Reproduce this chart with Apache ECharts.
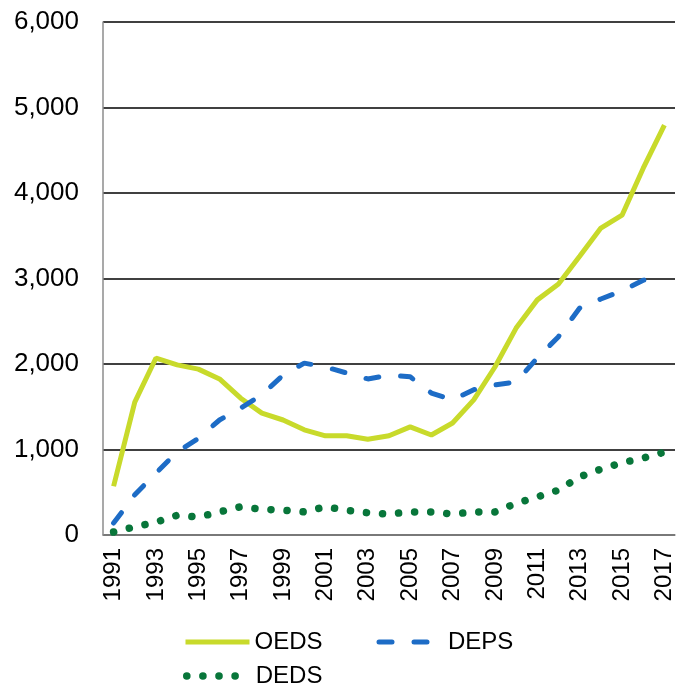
<!DOCTYPE html>
<html>
<head>
<meta charset="utf-8">
<script src="https://cdn.jsdelivr.net/npm/echarts@6/dist/echarts.min.js"></script>
<style>
  html, body { margin: 0; padding: 0; background: #fff; }
  #main { width: 677px; height: 691px; }
</style>
</head>
<body>
<div id="main"></div>
<script>
// 年份
var years = ['1991', '1992', '1993', '1994', '1995', '1996', '1997', '1998', '1999',
  '2000', '2001', '2002', '2003', '2004', '2005', '2006', '2007', '2008', '2009',
  '2010', '2011', '2012', '2013', '2014', '2015', '2016', '2017']

var oeds = [570, 1555, 2070, 1990, 1940, 1825, 1600, 1425, 1345, 1230, 1160, 1160, 1120,
  1160, 1265, 1170, 1310, 1580, 1965, 2420, 2750, 2935, 3260, 3590, 3740, 4290, 4795]
var deps = [140, 470, 725, 970, 1130, 1345, 1485, 1640, 1870, 2010, 1965, 1895, 1825,
  1870, 1850, 1660, 1580, 1700, 1755, 1790, 2070, 2320, 2655, 2760, 2855, 2980, 3010]
var deds = [35, 95, 150, 230, 210, 270, 330, 300, 290, 270, 330, 290, 260,
  245, 270, 270, 245, 270, 270, 370, 445, 525, 680, 770, 845, 900, 970]

var font = 'Liberation Sans, Arial, Helvetica, sans-serif'

var myChart = echarts.init(document.getElementById('main'))

var options = {
  animation: false,
  textStyle: { fontFamily: font },
  grid: { left: 103, top: 22, right: 2, bottom: 156 },
  legend: [
    {
      data: ['OEDS', 'DEPS'],
      left: 178,
      top: 625,
      itemWidth: 64,
      itemHeight: 24,
      itemGap: 54,
      itemStyle: { opacity: 0 },
      lineStyle: { width: 5 },
      textStyle: { fontSize: 24, color: '#000', fontFamily: font }
    },
    {
      data: ['DEDS'],
      left: 178,
      top: 659,
      itemWidth: 64,
      itemHeight: 24,
      itemStyle: { opacity: 0 },
      lineStyle: { width: 7.5 },
      textStyle: { fontSize: 24, color: '#000', fontFamily: font }
    }
  ],
  xAxis: {
    type: 'category',
    data: years,
    boundaryGap: true,
    axisLine: { lineStyle: { color: '#8c8c8c', width: 1.5 } },
    axisTick: { show: false },
    axisLabel: {
      interval: 1,
      rotate: 90,
      margin: 13,
      fontSize: 24,
      color: '#000',
      fontFamily: font
    }
  },
  yAxis: {
    type: 'value',
    min: 0,
    max: 6000,
    interval: 1000,
    axisLine: { show: true, lineStyle: { color: '#8c8c8c', width: 1.5 } },
    axisTick: { show: false },
    splitLine: { lineStyle: { color: '#000', width: 1.5 } },
    axisLabel: {
      margin: 24,
      fontSize: 26,
      color: '#000',
      fontFamily: font,
      formatter: function (v) { return v.toLocaleString('en-US') }
    }
  },
  series: [
    {
      name: 'OEDS',
      type: 'line',
      data: oeds,
      symbol: 'none',
      itemStyle: { color: '#c8da2b' },
      lineStyle: { color: '#c8da2b', width: 5 }
    },
    {
      name: 'DEPS',
      type: 'line',
      data: deps,
      symbol: 'none',
      itemStyle: { color: '#1d6cc6' },
      lineStyle: { color: '#1d6cc6', width: 5, type: [13, 22], cap: 'round' }
    },
    {
      name: 'DEDS',
      type: 'line',
      data: deds,
      symbol: 'none',
      itemStyle: { color: '#08763a' },
      lineStyle: { color: '#08763a', width: 7.5, type: [0.1, 16], cap: 'round' }
    }
  ]
}

myChart.setOption(options)
</script>
</body>
</html>
